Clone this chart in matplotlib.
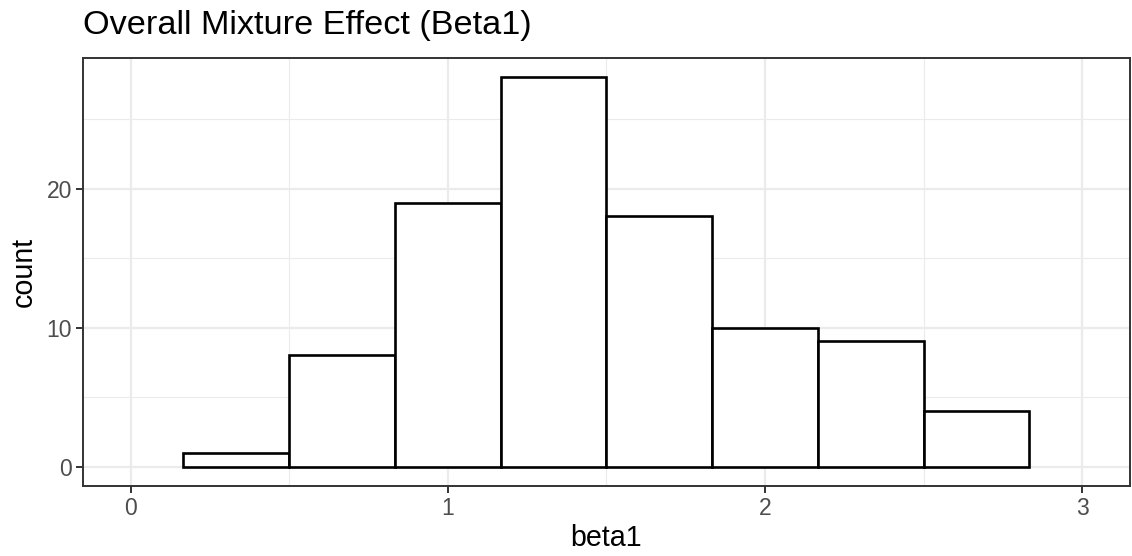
import numpy as np
import matplotlib
matplotlib.use("Agg")
import matplotlib.pyplot as plt

plt.rcParams['font.family'] = ['Liberation Sans', 'DejaVu Sans']

# histogram of beta1 draws (bin width 1/3)
bin_edges = [1/6, 1/2, 5/6, 7/6, 3/2, 11/6, 13/6, 5/2, 17/6]
counts = [1, 8, 19, 28, 18, 10, 9, 4]

x_ticks = [0, 1, 2, 3]
y_ticks = [0, 10, 20]

fig = plt.figure(figsize=(11.32, 5.56), dpi=100)
ax = fig.add_axes([0.0733, 0.1259, 0.9247, 0.7698])

lefts = np.array(bin_edges[:-1])
widths = np.diff(bin_edges)
ax.bar(lefts, counts, width=widths, align='edge', facecolor='white',
       edgecolor='black', linewidth=1.9, zorder=3)

# ggplot-ish limits (xlim 0..3 with 5% expansion)
ax.set_xlim(-0.15, 3.15)
ax.set_ylim(-1.4, 29.4)

ax.set_xticks(x_ticks)
ax.set_yticks(y_ticks)
ax.set_xticks([0.5, 1.5, 2.5], minor=True)
ax.set_yticks([5, 15, 25], minor=True)
ax.grid(True, which='major', color='#ebebeb', linewidth=1.6, zorder=0)
ax.grid(True, which='minor', color='#ebebeb', linewidth=0.8, zorder=0)
ax.set_axisbelow(True)

for s in ax.spines.values():
    s.set_color('#333333')
    s.set_linewidth(1.4)

ax.tick_params(which='major', length=5, width=1.4, color='#333333',
               labelcolor='#4d4d4d', labelsize=16.5, pad=3)
ax.tick_params(which='minor', length=0)

ax.set_xlabel('beta1', fontsize=20.6, labelpad=3)
ax.set_ylabel('count', fontsize=20.6, labelpad=6)
ax.set_title('Overall Mixture Effect (Beta1)', fontsize=24.7, loc='left', pad=17)

fig.savefig('out.png', dpi=100)
